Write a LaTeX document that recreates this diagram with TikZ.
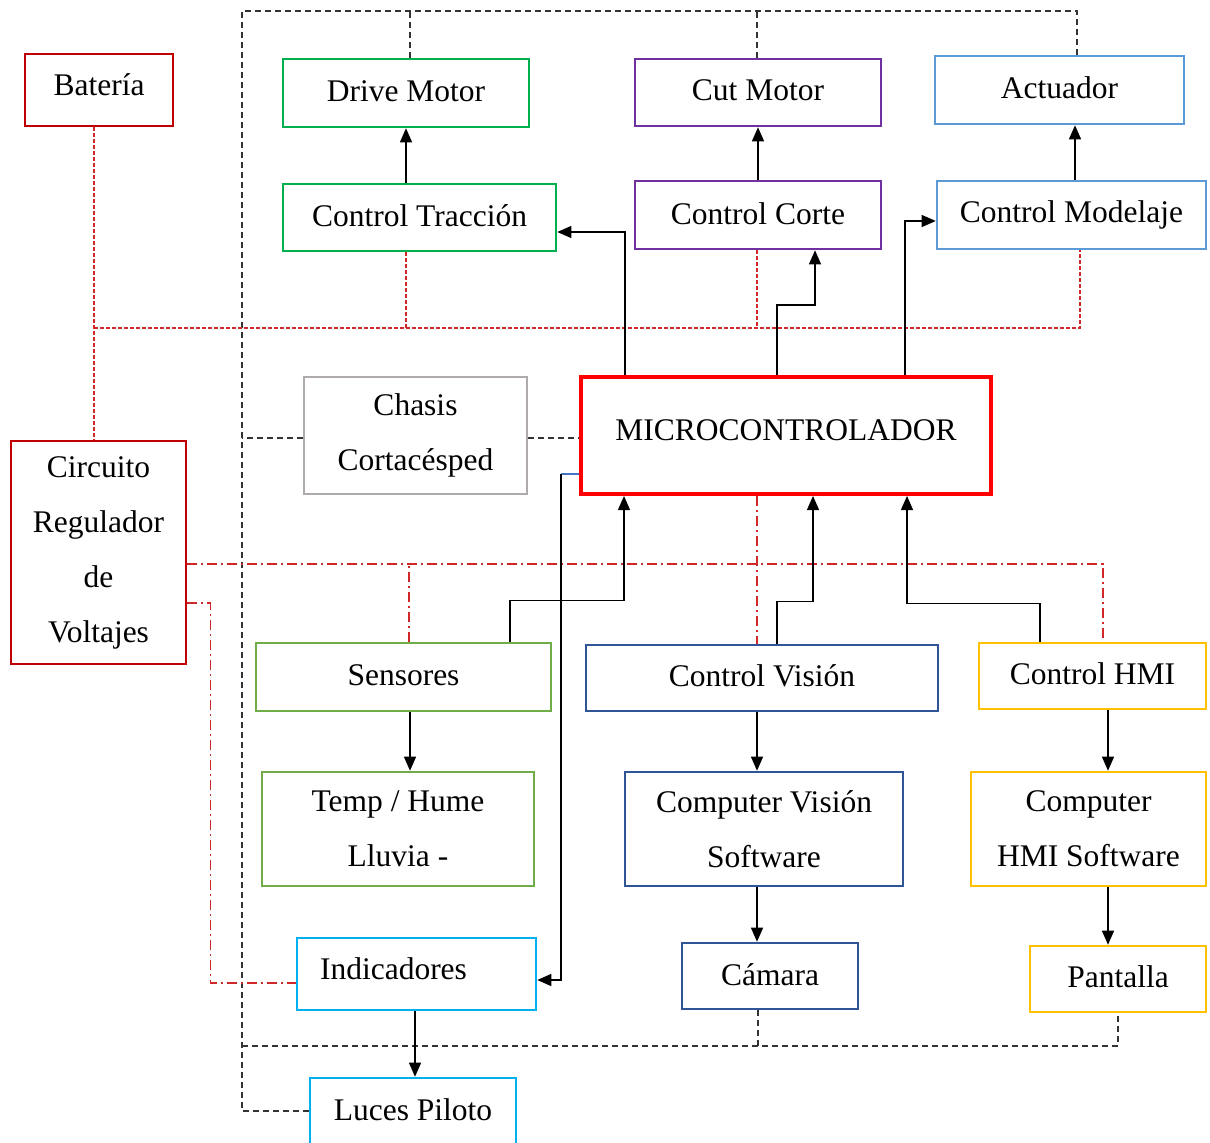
\documentclass[tikz,border=0pt]{standalone}
\usepackage{fontspec}
\setmainfont{Liberation Serif}
\usetikzlibrary{arrows.meta}
\definecolor{cDarkRed}{HTML}{C00000}
\definecolor{cGreenA}{HTML}{00B050}
\definecolor{cPurple}{HTML}{7030A0}
\definecolor{cLBlue}{HTML}{5B9BD5}
\definecolor{cGray}{HTML}{AFABAB}
\definecolor{cGreenB}{HTML}{70AD47}
\definecolor{cDBlue}{HTML}{2F5597}
\definecolor{cGold}{HTML}{FFC000}
\definecolor{cCyan}{HTML}{00B0F0}
\definecolor{cRedLine}{HTML}{D02828}
\definecolor{cBlueLine}{HTML}{4472C4}
\tikzset{
  box/.style={draw, line width=2.6pt, rectangle, inner sep=0pt, align=center,
    font=\fontsize{31.5}{55}\selectfont},
  arr/.style={line width=1.3pt, -{Triangle[length=14pt,width=12pt]}},
  bdash/.style={line width=1.3pt, draw=black!80, dash pattern=on 6pt off 4pt},
  rdash/.style={line width=1.1pt, draw=cRedLine, dash pattern=on 4pt off 2pt},
  rdashdot/.style={line width=1.1pt, draw=cRedLine, dash pattern=on 10pt off 4pt on 2pt off 4pt},
  raise/.style={text depth=#1},
}
\begin{document}
\begin{tikzpicture}[x=1pt,y=-1pt]
\useasboundingbox (0,0) rectangle (1210,1143);
% nodes
\node[box, draw=cDarkRed, minimum width=148pt, minimum height=72pt, raise=10pt] (bat) at (99,90) {Batería};
\node[box, draw=cGreenA, minimum width=246pt, minimum height=68pt, raise=4pt] (drive) at (406,93) {Drive Motor};
\node[box, draw=cPurple, minimum width=246pt, minimum height=67pt, raise=4pt] (cut) at (758,92.5) {Cut Motor};
\node[box, draw=cLBlue, minimum width=249pt, minimum height=68pt, raise=4pt] (act) at (1059.5,90) {Actuador};
\node[box, draw=cGreenA, minimum width=273pt, minimum height=67pt, raise=4pt] (ctrac) at (419.5,217.5) {Control Tracción};
\node[box, draw=cPurple, minimum width=246pt, minimum height=68pt, raise=2pt] (ccorte) at (758,215) {Control Corte};
\node[box, draw=cLBlue, minimum width=269pt, minimum height=68pt] (cmod) at (1071.5,215) {Control Modelaje};
\node[box, draw=cGray, minimum width=223pt, minimum height=117pt] (chasis) at (415.5,435.5) {Chasis\\Cortacésped};
\node[box, draw=red, line width=4pt, minimum width=410pt, minimum height=117pt, raise=10pt] (micro) at (786,435.5) {MICROCONTROLADOR};
\node[box, draw=cDarkRed, minimum width=175pt, minimum height=223pt] (circ) at (98.5,552.5) {Circuito\\Regulador\\de\\Voltajes};
\node[box, draw=cGreenB, minimum width=295pt, minimum height=68pt, raise=4pt] (sens) at (403.5,677) {Sensores};
\node[box, draw=cDBlue, minimum width=352pt, minimum height=66pt, raise=4pt] (cvis) at (762,678) {Control Visión};
\node[box, draw=cGold, minimum width=227pt, minimum height=66pt, raise=4pt] (chmi) at (1092.5,676) {Control HMI};
\node[box, draw=cGreenB, minimum width=272pt, minimum height=114pt] (temp) at (398,829) {Temp / Hume\\Lluvia -};
\node[box, draw=cDBlue, minimum width=278pt, minimum height=114pt] (cvsw) at (764,829) {Computer Visión\\Software};
\node[box, draw=cGold, minimum width=235pt, minimum height=114pt] (chsw) at (1088.5,829) {Computer\\HMI Software};
\node[box, draw=cCyan, minimum width=239pt, minimum height=72pt, raise=10pt] (ind) at (416.5,974) {Indicadores\hspace*{46pt}};
\node[box, draw=cDBlue, minimum width=176pt, minimum height=66pt, raise=2pt] (cam) at (770,976) {Cámara};
\node[box, draw=cGold, minimum width=176pt, minimum height=66pt, raise=4pt] (pant) at (1118,979) {Pantalla};
\node[box, draw=cCyan, minimum width=206pt, minimum height=76pt, raise=13pt] (luces) at (413,1116) {Luces Piloto};
% coordinates for dashed frame
\coordinate (dTL) at (242,11);
\coordinate (dTR) at (1077,11);
\coordinate (dBL) at (242,1046);
\coordinate (rB) at (94,328);
\coordinate (rM) at (1103,564);
% black dashed lines
\draw[bdash] ([yshift=5pt]luces.west) -| (dTL) -- (dTR) -- (dTR |- act.north);
\draw[bdash] ([xshift=4pt]drive.north) -- ([xshift=4pt]drive.north |- dTL);
\draw[bdash] ([xshift=-1pt]cut.north) -- ([xshift=-1pt]cut.north |- dTL);
\draw[bdash] ([yshift=-2.5pt]chasis.west) -- ([yshift=-2.5pt]chasis.west -| dTL);
\draw[bdash] ([yshift=-2.5pt]chasis.east) -- ([yshift=-2.5pt]micro.west);
\draw[bdash] (dBL) -- (pant.south |- dBL) -- (pant.south);
\draw[bdash] ([xshift=-12pt]cam.south) -- ([xshift=-12pt]cam.south |- dBL);
% red dashed lines
\draw[rdash] ([xshift=-5pt]bat.south) -- ([xshift=-5pt]bat.south |- circ.north);
\draw[rdash] (rB) -| ([xshift=8.5pt]cmod.south);
\draw[rdash] ([xshift=-13.5pt]ctrac.south) -- ([xshift=-13.5pt]ctrac.south |- rB);
\draw[rdash] ([xshift=-1pt]ccorte.south) -- ([xshift=-1pt]ccorte.south |- rB);
% red dash-dot lines
\draw[rdashdot] (circ.east |- rM) -- (rM) -- (rM |- chmi.north);
\draw[rdashdot] ([xshift=5.5pt]sens.north) -- ([xshift=5.5pt]sens.north |- rM);
\draw[rdashdot] ([xshift=-29pt]micro.south) -- ([xshift=-29pt]micro.south |- cvis.north);
\draw[rdashdot] ([yshift=-50.5pt]circ.east) -- ++(23,0) |- ([yshift=-9pt]ind.west);
% arrows
\draw[arr] (drive.south |- ctrac.north) -- (drive.south);
\draw[arr] (ccorte.north) -- (cut.south);
\draw[arr] ([xshift=3.5pt]cmod.north) -- ([xshift=3.5pt]cmod.north |- act.south);
\draw[arr] ([xshift=-161pt]micro.north) |- ([yshift=-14.5pt]ctrac.east);
\draw[arr] ([xshift=-9pt]micro.north) -- ++(0,-70) -| ([xshift=57pt]ccorte.south);
\draw[arr] ([xshift=119pt]micro.north) |- ([yshift=-6pt]cmod.west);
\draw[arr] ([xshift=106.5pt]sens.north) -- ++(0,-41) -| ([xshift=-162pt]micro.south);
\draw[arr] ([xshift=15pt]cvis.north) -- ++(0,-42) -| ([xshift=27pt]micro.south);
\draw[arr] ([xshift=-52.5pt]chmi.north) -- ++(0,-38) -| ([xshift=121pt]micro.south);
\draw[line width=1.3pt, draw=cBlueLine] ([yshift=-38.5pt]micro.west) -- ++(-18,0) coordinate (k);
\draw[arr] (k) |- ([yshift=-6pt]ind.east);
\draw[arr] ([xshift=6.5pt]sens.south) -- ([xshift=6.5pt]sens.south |- temp.north);
\draw[arr] ([xshift=-5pt]cvis.south) -- ([xshift=-5pt]cvis.south |- cvsw.north);
\draw[arr] ([xshift=15.5pt]chmi.south) -- ([xshift=15.5pt]chmi.south |- chsw.north);
\draw[arr] ([xshift=-7pt]cvsw.south) -- ([xshift=-7pt]cvsw.south |- cam.north);
\draw[arr] ([xshift=19.5pt]chsw.south) -- ([xshift=19.5pt]chsw.south |- pant.north);
\draw[arr] ([xshift=-1.5pt]ind.south) -- ([xshift=-1.5pt]ind.south |- luces.north);
\end{tikzpicture}
\end{document}
